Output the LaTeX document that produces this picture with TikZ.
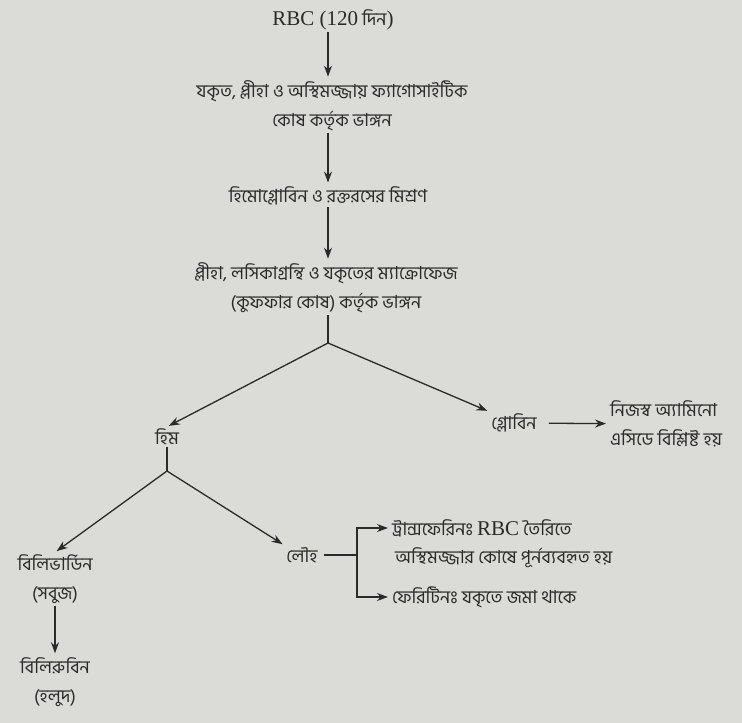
\documentclass[tikz,border=0pt]{standalone}
\usepackage{fontspec}
\setmainfont{Liberation Serif}
\newfontfamily\bn[Script=Bengali]{Hind Siliguri}
\newfontfamily\latfont{Liberation Serif}
\newcommand\bigrm{\latfont\fontsize{21}{24}\selectfont}
\usetikzlibrary{positioning,arrows.meta,calc}
\definecolor{paper}{RGB}{219,219,216}
\definecolor{ink}{RGB}{42,42,42}
\tikzset{
    txt/.style={font=\bn\fontsize{18}{29}\selectfont, text=ink, align=center, inner sep=2pt},
    arrow/.style={-{Stealth[length=11pt,width=8pt]}, line width=1.3pt, draw=ink, shorten >=2pt},
    wire/.style={line width=1.3pt, draw=ink}
}
\begin{document}
\begin{tikzpicture}[x=1pt,y=-1pt]
\fill[paper] (0,0) rectangle (742,723);
% main column
\node[txt] (rbc) at (333,20) {{\bigrm RBC (120} দিন{\bigrm )}};
\node[txt] (breakdown) at (332,106) {যকৃত, প্লীহা ও অস্থিমজ্জায় ফ্যাগোসাইটিক\\কোষ কর্তৃক ভাঙ্গন};
\node[txt] (mix) at (328,196) {হিমোগ্লোবিন ও রক্তরসের মিশ্রণ};
\node[txt] (macro) at (326,288) {প্লীহা, লসিকাগ্রন্থি ও যকৃতের ম্যাক্রোফেজ\\(কুফফার কোষ) কর্তৃক ভাঙ্গন};
\coordinate (split1) at (328,343);
% heme and globin
\node[txt] (heme) at (167,437) {হিম};
\node[txt] (globin) at (514,423) {গ্লোবিন};
\node[txt, align=left, anchor=west] (amino) at (608,424) {নিজস্ব অ্যামিনো\\এসিডে বিশ্লিষ্ট হয়};
\coordinate (split2) at (167,471);
% pigments
\node[txt] (biliv) at (55,579) {বিলিভার্ডিন\\(সবুজ)};
\node[txt] (bilir) at (55,682) {বিলিরুবিন\\(হলুদ)};
% iron
\node[txt] (iron) at (302,555) {লৌহ};
\coordinate (fork) at (357,555);
\node[txt, anchor=west] (transf) at (390,528) {ট্রান্সফেরিনঃ {\bigrm RBC} তৈরিতে};
\node[txt, anchor=west] (reuse) at (393,558) {অস্থিমজ্জার কোষে পূর্নব্যবহৃত হয়};
\node[txt, anchor=west] (ferr) at (390,597) {ফেরিটিনঃ যকৃতে জমা থাকে};
% connectors
\draw[arrow] (328,0 |- rbc.south) -- (328,0 |- breakdown.north);
\draw[arrow] (328,0 |- breakdown.south) -- (328,0 |- mix.north);
\draw[arrow] (328,0 |- mix.south) -- (328,0 |- macro.north);
\draw[wire] (328,0 |- macro.south) -- (split1);
\draw[arrow] (split1) -- (heme.north);
\draw[arrow] (split1) -- (globin.north west);
\draw[arrow, shorten <=10pt] (globin) -- (amino);
\draw[wire] (heme) -- (split2);
\draw[arrow] (split2) -- (biliv.north);
\draw[arrow] (split2) -- (iron.north west);
\draw[arrow] (biliv) -- (bilir);
\draw[wire, shorten <=4pt] (iron) -- (fork);
\draw[arrow] (fork) |- (transf);
\draw[arrow] (fork) |- (ferr);
\end{tikzpicture}
\end{document}
